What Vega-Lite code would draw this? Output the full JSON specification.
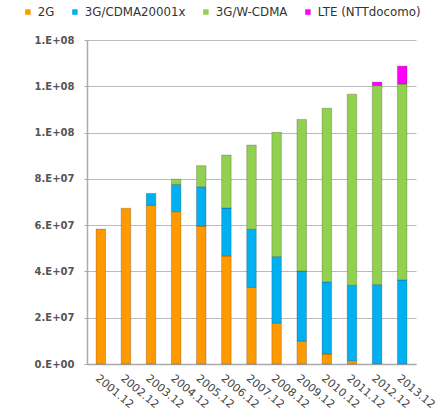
{
  "$schema": "https://vega.github.io/schema/vega-lite/v6.json",
  "width": 329,
  "height": 324,
  "autosize": "none",
  "padding": {"left": 87, "top": 40, "right": 21, "bottom": 51},
  "background": "white",
  "config": {"view": {"stroke": null}, "font": "DejaVu Sans"},
  "data": {"values": [
    {"year": "2001.12", "series": "2G", "v": 58300000},
    {"year": "2002.12", "series": "2G", "v": 67300000},
    {"year": "2003.12", "series": "2G", "v": 68500000},
    {"year": "2003.12", "series": "3G/CDMA20001x", "v": 5200000},
    {"year": "2004.12", "series": "2G", "v": 65800000},
    {"year": "2004.12", "series": "3G/CDMA20001x", "v": 11800000},
    {"year": "2004.12", "series": "3G/W-CDMA", "v": 2300000},
    {"year": "2005.12", "series": "2G", "v": 59600000},
    {"year": "2005.12", "series": "3G/CDMA20001x", "v": 17000000},
    {"year": "2005.12", "series": "3G/W-CDMA", "v": 9100000},
    {"year": "2006.12", "series": "2G", "v": 46700000},
    {"year": "2006.12", "series": "3G/CDMA20001x", "v": 20700000},
    {"year": "2006.12", "series": "3G/W-CDMA", "v": 22900000},
    {"year": "2007.12", "series": "2G", "v": 33100000},
    {"year": "2007.12", "series": "3G/CDMA20001x", "v": 25100000},
    {"year": "2007.12", "series": "3G/W-CDMA", "v": 36400000},
    {"year": "2008.12", "series": "2G", "v": 17700000},
    {"year": "2008.12", "series": "3G/CDMA20001x", "v": 28700000},
    {"year": "2008.12", "series": "3G/W-CDMA", "v": 53700000},
    {"year": "2009.12", "series": "2G", "v": 9900000},
    {"year": "2009.12", "series": "3G/CDMA20001x", "v": 30300000},
    {"year": "2009.12", "series": "3G/W-CDMA", "v": 65500000},
    {"year": "2010.12", "series": "2G", "v": 4300000},
    {"year": "2010.12", "series": "3G/CDMA20001x", "v": 31100000},
    {"year": "2010.12", "series": "3G/W-CDMA", "v": 75100000},
    {"year": "2011.12", "series": "2G", "v": 1400000},
    {"year": "2011.12", "series": "3G/CDMA20001x", "v": 32600000},
    {"year": "2011.12", "series": "3G/W-CDMA", "v": 82600000},
    {"year": "2012.12", "series": "3G/CDMA20001x", "v": 34300000},
    {"year": "2012.12", "series": "3G/W-CDMA", "v": 86000000},
    {"year": "2012.12", "series": "LTE (NTTdocomo)", "v": 1500000},
    {"year": "2013.12", "series": "3G/CDMA20001x", "v": 36300000},
    {"year": "2013.12", "series": "3G/W-CDMA", "v": 84700000},
    {"year": "2013.12", "series": "LTE (NTTdocomo)", "v": 7700000}
  ]},
  "mark": {"type": "bar", "stroke": "#000", "strokeOpacity": 0.25, "strokeWidth": 0.8},
  "encoding": {
    "x": {
      "field": "year", "type": "ordinal", "title": null,
      "scale": {"paddingInner": 0.62, "paddingOuter": 0.36},
      "axis": {"labelAngle": 40, "labelAlign": "left", "labelBaseline": "top", "labelFontSize": 11, "labelColor": "#444", "labelPadding": 8, "ticks": false, "domainColor": "#aaa", "domainWidth": 1.5}
    },
    "y": {
      "field": "v", "type": "quantitative", "stack": "zero", "title": null,
      "scale": {"domain": [0, 140000000], "nice": false},
      "axis": {
        "values": [0, 20000000, 40000000, 60000000, 80000000, 100000000, 120000000, 140000000],
        "labelExpr": "datum.value == 0 ? '0.E+00' : (round(datum.value / pow(10, floor(log(datum.value)/LN10 + 1e-9))) + '.E+' + (floor(log(datum.value)/LN10 + 1e-9) < 10 ? '0' : '') + floor(log(datum.value)/LN10 + 1e-9))",
        "labelFontSize": 10, "labelFontWeight": "bold", "labelColor": "#555", "labelPadding": 10,
        "gridColor": "#bbb", "gridWidth": 1.2, "domainColor": "#aaa", "domainWidth": 1.5, "tickColor": "#aaa", "tickSize": 3
      }
    },
    "color": {
      "field": "series", "type": "nominal",
      "scale": {"domain": ["2G", "3G/CDMA20001x", "3G/W-CDMA", "LTE (NTTdocomo)"], "range": ["#FF9900", "#00B0F0", "#92D050", "#FF00FF"]},
      "legend": {"title": null, "orient": "none", "direction": "horizontal", "legendX": -65, "legendY": -34, "symbolType": "square", "symbolSize": 30, "symbolStrokeWidth": 0, "labelFontSize": 11.8, "labelColor": "#333", "columnPadding": 14, "labelOffset": 4}
    },
    "order": {"field": "series", "sort": "ascending"}
  }
}
